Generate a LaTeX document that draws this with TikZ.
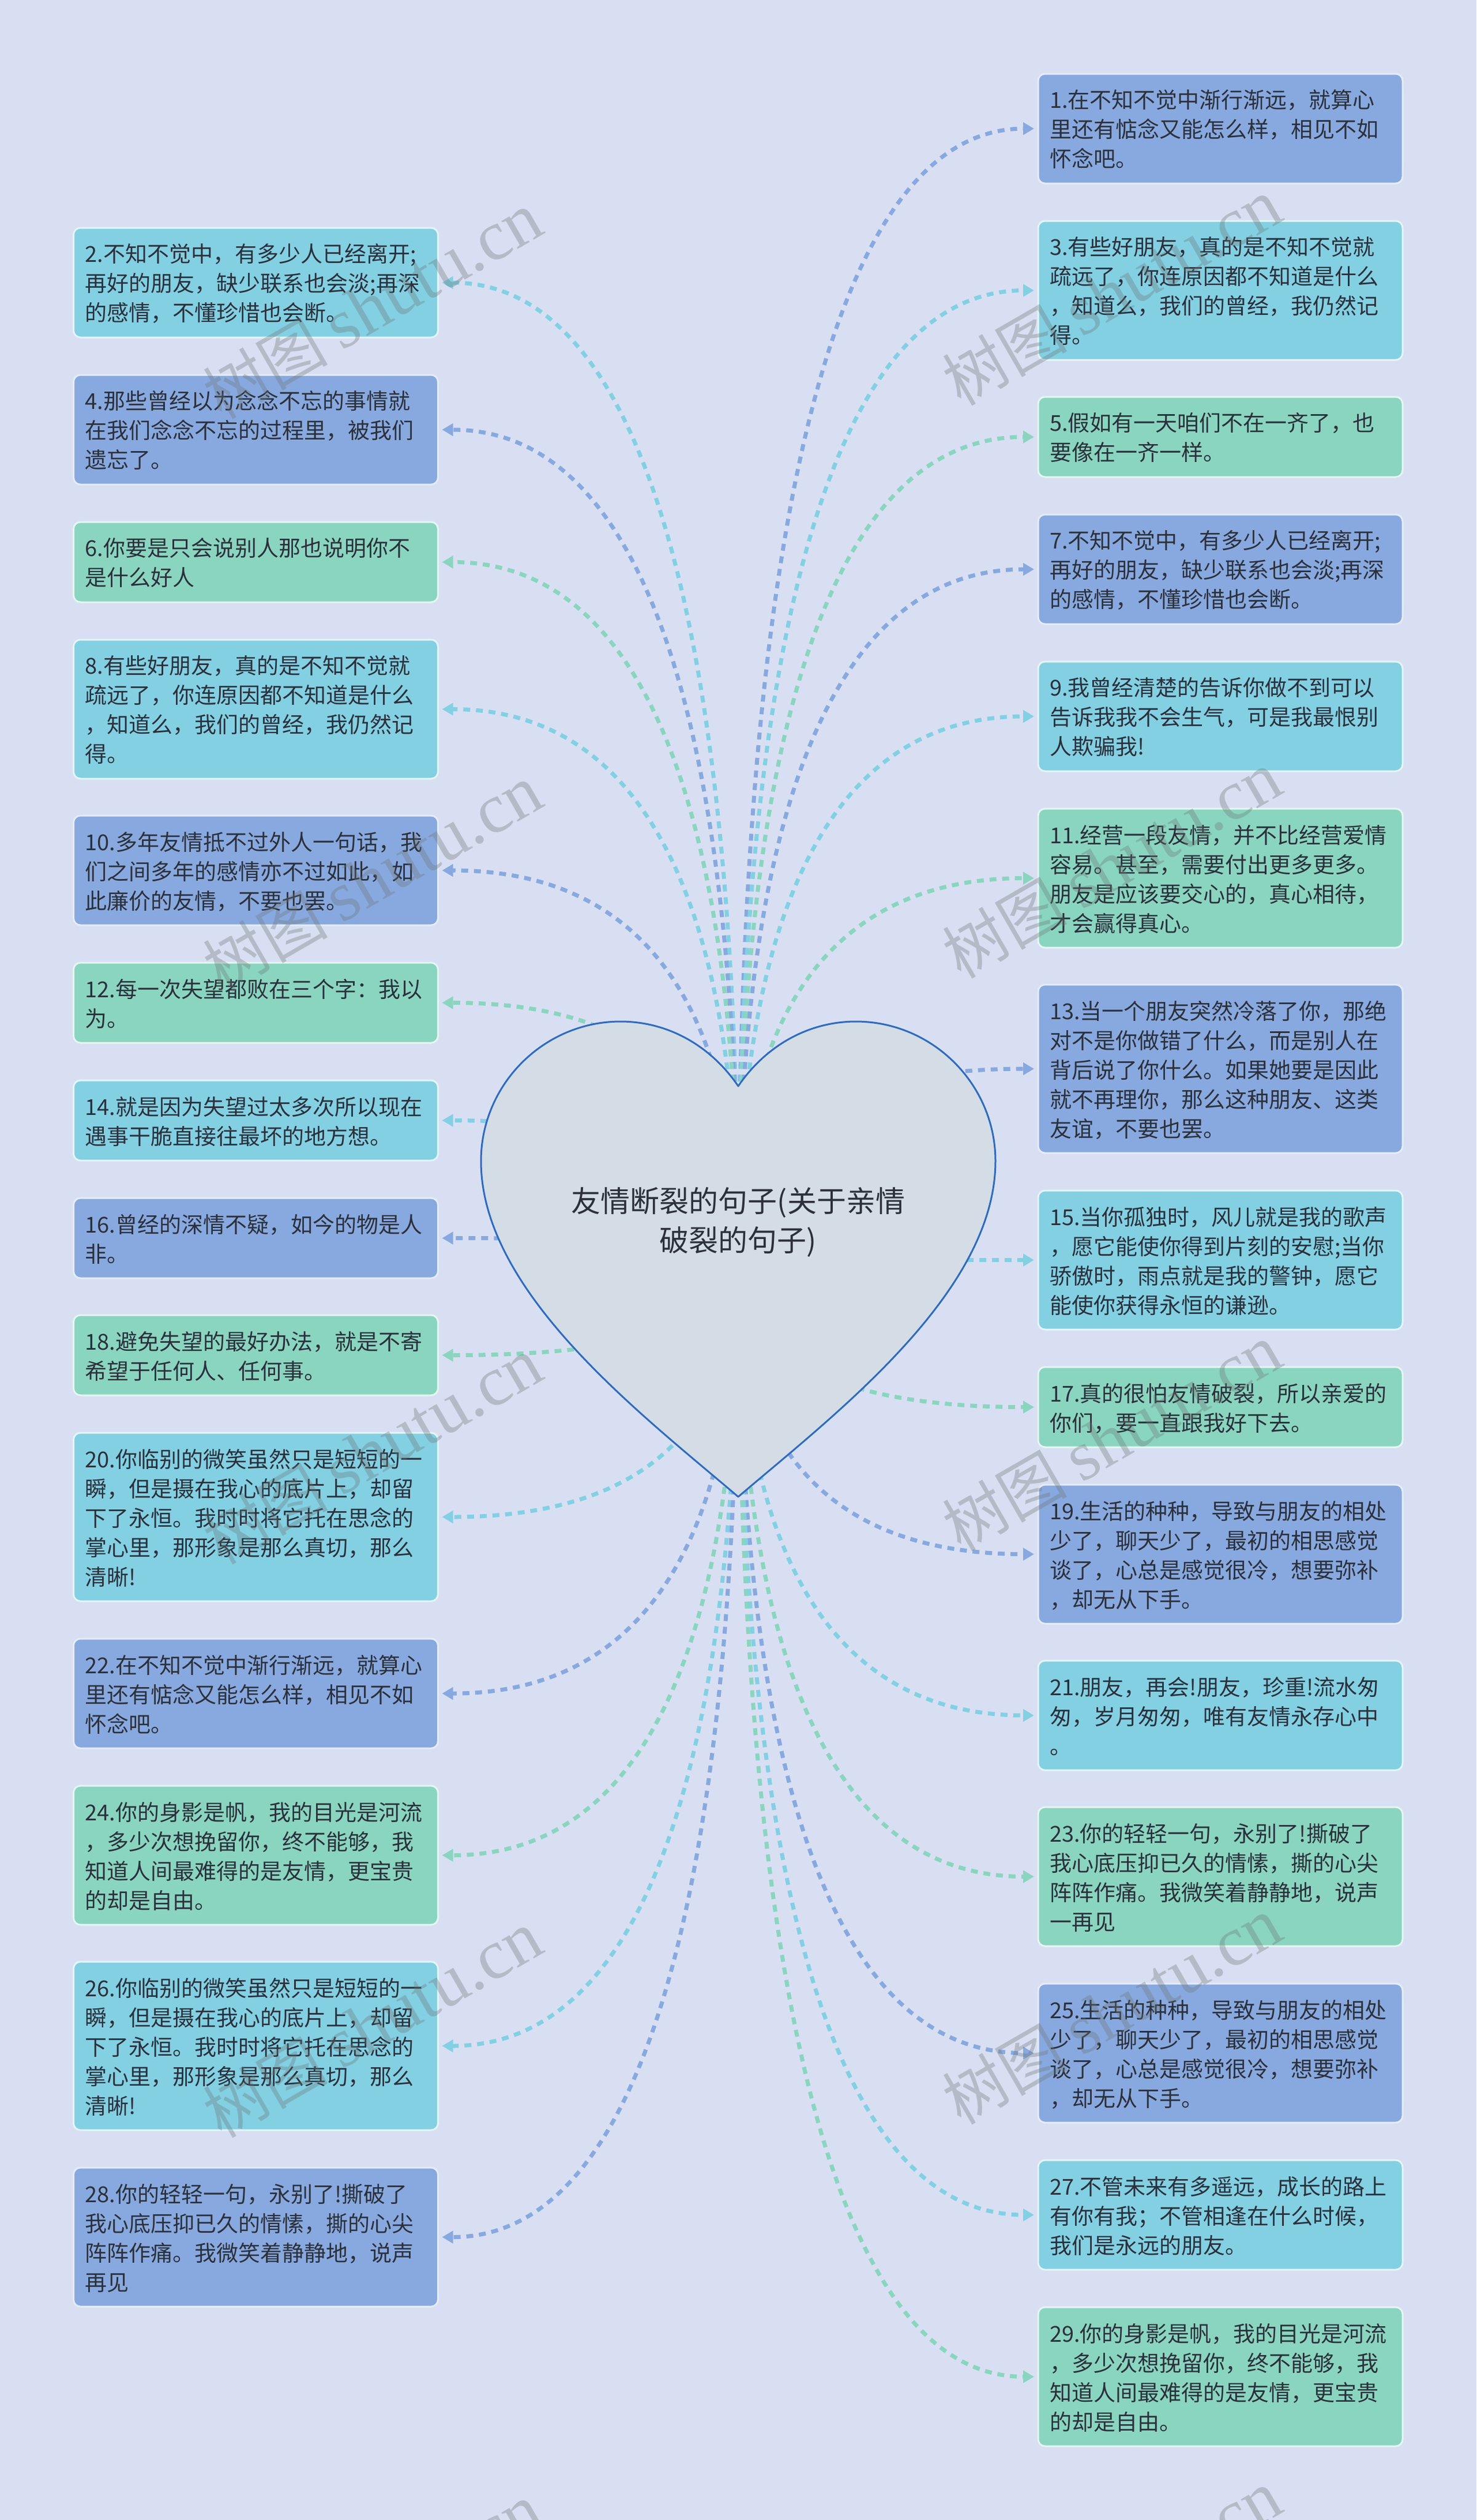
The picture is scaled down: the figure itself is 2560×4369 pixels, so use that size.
\documentclass[tikz,border=0pt]{standalone}
\usepackage{fontspec}
\setmainfont{Noto Sans CJK SC}
\newfontfamily\wmlat{Liberation Serif}
\usetikzlibrary{calc,arrows.meta}
\definecolor{bgc}{HTML}{D9DFF2}
\definecolor{teal}{HTML}{83D0E3}
\definecolor{blu}{HTML}{88A9DF}
\definecolor{grn}{HTML}{8AD5C0}
\definecolor{heartfill}{HTML}{D4DCE6}
\definecolor{heartline}{HTML}{2E6BC0}
\definecolor{ink}{HTML}{2B303B}
\definecolor{wmc}{HTML}{6B7473}
\tikzset{
  card/.style={draw=#1!22!white,fill=#1,line width=3pt,rounded corners=12pt,minimum width=632pt,
    inner xsep=20pt,inner ysep=0pt,outer sep=0pt,anchor=north west,text=ink,
    font=\fontsize{38}{51}\selectfont},
  link/.style={draw=#1,line width=7pt,dash pattern=on 12pt off 10pt,shorten >=7pt,
    -{Triangle[length=19pt,width=21pt,fill=#1]}},
  wm/.style={text=wmc,text opacity=.33,rotate=30,inner sep=0pt},
}
\newcommand\bx[6]{\node[card=#5,minimum height={37+51*#4}] (#1) at (#2,#3)
  {\makebox[592pt][l]{\raisebox{-12pt}[0pt][0pt]{\begin{tabular}{@{}l@{}}#6\end{tabular}}}};}
\newcommand\conn[2]{\draw[link=#2] (root.center) .. controls ($(root.center)!.6667!(root.center |- #1)$)
  and ($(#1)!.6667!(root.center |- #1)$) .. (#1);}
\newcommand\wmark[3]{\node[wm] (#1) at (#2,#3) {\fontsize{108}{108}\selectfont 树图 \fontsize{122}{122}\wmlat shutu.cn};}
\begin{document}
\begin{tikzpicture}[x=1pt,y=-1pt]
\fill[bgc] (0,0) rectangle (2560,4369);
\useasboundingbox (0,0) rectangle (2560,4369);
% left cards
\bx{n2}{127.5}{395}{3}{teal}{2.不知不觉中，有多少人已经离开;\\再好的朋友，缺少联系也会淡;再深\\的感情，不懂珍惜也会断。}
\bx{n4}{127.5}{650}{3}{blu}{4.那些曾经以为念念不忘的事情就\\在我们念念不忘的过程里，被我们\\遗忘了。}
\bx{n6}{127.5}{905}{2}{grn}{6.你要是只会说别人那也说明你不\\是什么好人}
\bx{n8}{127.5}{1109}{4}{teal}{8.有些好朋友，真的是不知不觉就\\疏远了，你连原因都不知道是什么\\，知道么，我们的曾经，我仍然记\\得。}
\bx{n10}{127.5}{1414}{3}{blu}{10.多年友情抵不过外人一句话，我\\们之间多年的感情亦不过如此，如\\此廉价的友情，不要也罢。}
\bx{n12}{127.5}{1669}{2}{grn}{12.每一次失望都败在三个字：我以\\为。}
\bx{n14}{127.5}{1873}{2}{teal}{14.就是因为失望过太多次所以现在\\遇事干脆直接往最坏的地方想。}
\bx{n16}{127.5}{2077}{2}{blu}{16.曾经的深情不疑，如今的物是人\\非。}
\bx{n18}{127.5}{2280}{2}{grn}{18.避免失望的最好办法，就是不寄\\希望于任何人、任何事。}
\bx{n20}{127.5}{2484}{5}{teal}{20.你临别的微笑虽然只是短短的一\\瞬，但是摄在我心的底片上，却留\\下了永恒。我时时将它托在思念的\\掌心里，那形象是那么真切，那么\\清晰!}
\bx{n22}{127.5}{2841}{3}{blu}{22.在不知不觉中渐行渐远，就算心\\里还有惦念又能怎么样，相见不如\\怀念吧。}
\bx{n24}{127.5}{3096}{4}{grn}{24.你的身影是帆，我的目光是河流\\，多少次想挽留你，终不能够，我\\知道人间最难得的是友情，更宝贵\\的却是自由。}
\bx{n26}{127.5}{3401}{5}{teal}{26.你临别的微笑虽然只是短短的一\\瞬，但是摄在我心的底片上，却留\\下了永恒。我时时将它托在思念的\\掌心里，那形象是那么真切，那么\\清晰!}
\bx{n28}{127.5}{3758}{4}{blu}{28.你的轻轻一句，永别了!撕破了\\我心底压抑已久的情愫，撕的心尖\\阵阵作痛。我微笑着静静地，说声\\再见}
% right cards
\bx{n1}{1800}{128}{3}{blu}{1.在不知不觉中渐行渐远，就算心\\里还有惦念又能怎么样，相见不如\\怀念吧。}
\bx{n3}{1800}{383}{4}{teal}{3.有些好朋友，真的是不知不觉就\\疏远了，你连原因都不知道是什么\\，知道么，我们的曾经，我仍然记\\得。}
\bx{n5}{1800}{688}{2}{grn}{5.假如有一天咱们不在一齐了，也\\要像在一齐一样。}
\bx{n7}{1800}{892}{3}{blu}{7.不知不觉中，有多少人已经离开;\\再好的朋友，缺少联系也会淡;再深\\的感情，不懂珍惜也会断。}
\bx{n9}{1800}{1147}{3}{teal}{9.我曾经清楚的告诉你做不到可以\\告诉我我不会生气，可是我最恨别\\人欺骗我!}
\bx{n11}{1800}{1402}{4}{grn}{11.经营一段友情，并不比经营爱情\\容易。甚至，需要付出更多更多。\\朋友是应该要交心的，真心相待，\\才会赢得真心。}
\bx{n13}{1800}{1707}{5}{blu}{13.当一个朋友突然冷落了你，那绝\\对不是你做错了什么，而是别人在\\背后说了你什么。如果她要是因此\\就不再理你，那么这种朋友、这类\\友谊，不要也罢。}
\bx{n15}{1800}{2064}{4}{teal}{15.当你孤独时，风儿就是我的歌声\\，愿它能使你得到片刻的安慰;当你\\骄傲时，雨点就是我的警钟，愿它\\能使你获得永恒的谦逊。}
\bx{n17}{1800}{2370}{2}{grn}{17.真的很怕友情破裂，所以亲爱的\\你们，要一直跟我好下去。}
\bx{n19}{1800}{2574}{4}{blu}{19.生活的种种，导致与朋友的相处\\少了，聊天少了，最初的相思感觉\\谈了，心总是感觉很冷，想要弥补\\，却无从下手。}
\bx{n21}{1800}{2879}{3}{teal}{21.朋友，再会!朋友，珍重!流水匆\\匆，岁月匆匆，唯有友情永存心中\\。}
\bx{n23}{1800}{3133}{4}{grn}{23.你的轻轻一句，永别了!撕破了\\我心底压抑已久的情愫，撕的心尖\\阵阵作痛。我微笑着静静地，说声\\一再见}
\bx{n25}{1800}{3439}{4}{blu}{25.生活的种种，导致与朋友的相处\\少了，聊天少了，最初的相思感觉\\谈了，心总是感觉很冷，想要弥补\\，却无从下手。}
\bx{n27}{1800}{3745}{3}{teal}{27.不管未来有多遥远，成长的路上\\有你有我；不管相逢在什么时候，\\我们是永远的朋友。}
\bx{n29}{1800}{4000}{4}{grn}{29.你的身影是帆，我的目光是河流\\，多少次想挽留你，终不能够，我\\知道人间最难得的是友情，更宝贵\\的却是自由。}
% root
\node[minimum width=892pt,minimum height=824pt,inner sep=0pt] (root) at (1280,2183) {};
% connectors
\conn{n1.west}{blu}\conn{n3.west}{teal}\conn{n5.west}{grn}\conn{n7.west}{blu}\conn{n9.west}{teal}
\conn{n11.west}{grn}\conn{n13.west}{blu}\conn{n15.west}{teal}\conn{n17.west}{grn}\conn{n19.west}{blu}
\conn{n21.west}{teal}\conn{n23.west}{grn}\conn{n25.west}{blu}\conn{n27.west}{teal}\conn{n29.west}{grn}
\conn{n2.east}{teal}\conn{n4.east}{blu}\conn{n6.east}{grn}\conn{n8.east}{teal}\conn{n10.east}{blu}
\conn{n12.east}{grn}\conn{n14.east}{teal}\conn{n16.east}{blu}\conn{n18.east}{grn}\conn{n20.east}{teal}
\conn{n22.east}{blu}\conn{n24.east}{grn}\conn{n26.east}{teal}\conn{n28.east}{blu}
% heart
\draw[fill=heartfill,draw=heartline,line width=3pt,line join=round]
  (1280,1883) .. controls (1330,1810) and (1405,1771) .. (1484,1771)
  .. controls (1617,1771) and (1726,1880) .. (1726,2013)
  .. controls (1726,2240) and (1450,2450) .. (1280,2595)
  .. controls (1110,2450) and (834,2240) .. (834,2013)
  .. controls (834,1880) and (943,1771) .. (1076,1771)
  .. controls (1155,1771) and (1230,1810) .. (1280,1883) -- cycle;
\node[inner sep=0pt,align=center,text=ink,font=\fontsize{51}{68.5}\selectfont] (title) at (1280,2119)
  {友情断裂的句子(关于亲情\\破裂的句子)};
% watermarks
\wmark{w1}{646}{530}\wmark{w2}{1928}{507}
\wmark{w3}{646}{1523}\wmark{w4}{1928}{1500}
\wmark{w5}{646}{2516}\wmark{w6}{1928}{2493}
\wmark{w7}{646}{3510}\wmark{w8}{1928}{3487}
\wmark{w9}{646}{4503}\wmark{w10}{1928}{4480}
\end{tikzpicture}
\end{document}
